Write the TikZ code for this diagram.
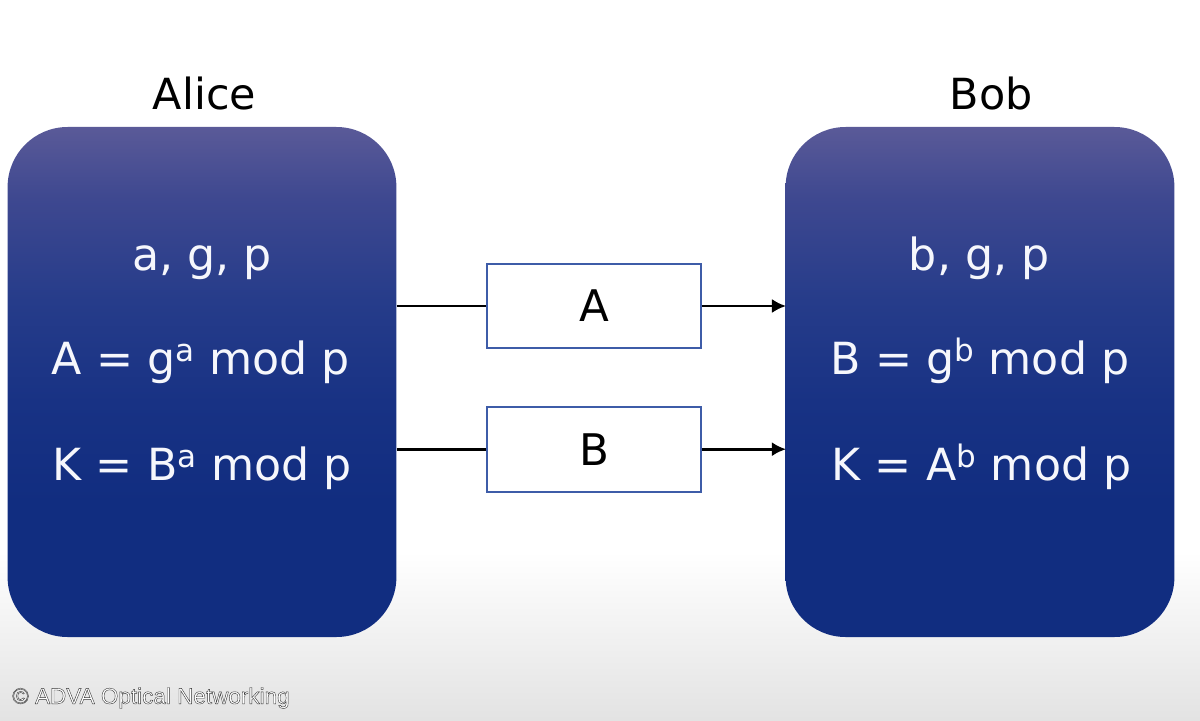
\documentclass[tikz,border=0pt]{standalone}
\usepackage{fontspec}
\setmainfont{DejaVu Sans}
\newfontfamily\creditfont{Liberation Sans}
\usetikzlibrary{arrows.meta, positioning}
\definecolor{msgline}{RGB}{62,92,168}
\definecolor{labeltext}{RGB}{246,247,252}
\definecolor{partya}{RGB}{17,45,128}
\definecolor{partyb}{RGB}{17,45,128}
\definecolor{partyc}{RGB}{24,50,132}
\definecolor{partyd}{RGB}{38,60,138}
\definecolor{partye}{RGB}{62,72,144}
\definecolor{partyf}{RGB}{90,90,152}
\pgfdeclareverticalshading{partyshade}{100bp}{
    color(0bp)=(partya);
    color(38bp)=(partyb);
    color(48bp)=(partyc);
    color(58bp)=(partyd);
    color(68bp)=(partye);
    color(75bp)=(partyf);
    color(100bp)=(partyf)}
\newcommand{\outlined}[1]{\special{pdf:code q 2 Tr 0.28 w 0.2 G}#1\special{pdf:code Q}}
\tikzset{
    party/.style={rectangle, rounded corners=1.5cm, minimum width=9.72cm, minimum height=12.75cm, shading=partyshade},
    partytext/.style={text=labeltext, anchor=base, inner sep=0pt, font=\fontsize{31.5}{38}\selectfont},
    partyname/.style={text=black, anchor=base, inner sep=0pt, font=\fontsize{30.5}{38}\selectfont},
    msgbox/.style={rectangle, draw=msgline, line width=1.4pt, fill=white, minimum width=5.35cm, minimum height=2.12cm, font=\fontsize{31}{38}\selectfont},
    arrow/.style={-{Latex[length=10pt,width=10pt]}, line width=1.9pt, shorten >=-0.5pt},
    plainline/.style={line width=1.9pt},
    credit/.style={anchor=west, inner sep=0pt, text=white, font=\creditfont\fontsize{16}{19}\selectfont},
}
\begin{document}
\begin{tikzpicture}
        % Page
        \path [use as bounding box] (0,0) rectangle (30,18);
        \shade [top color=white, bottom color=black!11] (0,4.2) rectangle (30,0);

        % Nodes
        \node [party] (alice) at (5.05,8.45) {};
        \node [party] (bob) at (24.5,8.45) {};
        \node [partyname] (alicename) at (5.11,15.25) {Alice};
        \node [partyname] (bobname) at (24.78,15.25) {Bob};
        \node [msgbox] (msga) at (14.85,10.35) {A};
        \node [msgbox] (msgb) at (14.85,6.77) {B};

        \node [partytext] (aone) at (5.05,11.25) {a, g, p};
        \node [partytext] (atwo) at (5.02,8.65) {A = g\textsuperscript{a} mod p};
        \node [partytext] (athree) at (5.06,6.0) {K = B\textsuperscript{a} mod p};
        \node [partytext] (bone) at (24.48,11.25) {b, g, p};
        \node [partytext] (btwo) at (24.5,8.65) {B = g\textsuperscript{b} mod p};
        \node [partytext] (bthree) at (24.54,6.0) {K = A\textsuperscript{b} mod p};

        \node [credit] (creditline) at (0.3,0.55) {\outlined{© ADVA Optical Networking}};

        % Edges
        \draw [plainline] (msga.west -| alice.east) -- (msga.west);
        \draw [arrow] (msga.east) -- (msga.east -| bob.west);
        \draw [plainline] (msgb.west -| alice.east) -- (msgb.west);
        \draw [arrow] (msgb.east) -- (msgb.east -| bob.west);
    \end{tikzpicture}
\end{document}
